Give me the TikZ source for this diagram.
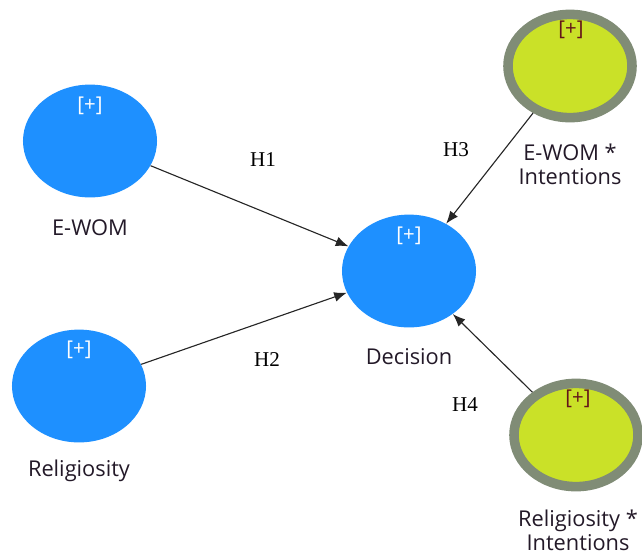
\documentclass[tikz,border=0pt]{standalone}
\usepackage{fontspec}
\setmainfont{Open Sans}
\newfontfamily\hfont{Liberation Serif}
\usetikzlibrary{positioning, shapes.geometric}
\usetikzlibrary{arrows, arrows.meta}
\tikzset{>={Latex[length=9pt, width=7pt]}}
\definecolor{lvblue}{RGB}{30,144,255}
\definecolor{lvgreen}{RGB}{202,225,40}
\definecolor{lvring}{RGB}{128,140,118}
\definecolor{plusred}{RGB}{100,20,25}
\definecolor{labelink}{RGB}{35,25,40}
\tikzset{
  latent/.style={ellipse, fill=lvblue, minimum width=3.35cm, minimum height=2.82cm, inner sep=0pt},
  moderator/.style={ellipse, fill=lvgreen, draw=lvring, line width=6.8pt, minimum width=3.1cm, minimum height=2.58cm, inner sep=0pt},
  plus/.style={font=\fontsize{14.5}{16}\selectfont},
  varname/.style={font=\fontsize{15.5}{17}\selectfont, text=labelink, align=center},
  hyp/.style={font=\hfont\fontsize{15}{17}\selectfont, text=black}
}

\begin{document}
\begin{tikzpicture}[x=0.025cm, y=-0.025cm]
  \useasboundingbox (0,0) rectangle (642,555);
  % Constructs
  \node[latent] (ewom) at (90,141) {};
  \node[latent] (relig) at (79,386) {};
  \node[latent] (dec) at (409,271) {};
  \node[moderator] (ewomint) at (570,66) {};
  \node[moderator] (religint) at (576,435) {};

  % [+] markers
  \node[plus, text=white] (pewom) at (90,106) {[+]};
  \node[plus, text=white] (prelig) at (79,350) {[+]};
  \node[plus, text=white] (pdec) at (409,236) {[+]};
  \node[plus, text=plusred] (pewomint) at (571,30) {[+]};
  \node[plus, text=plusred] (preligint) at (578,399) {[+]};

  % Names
  \node[varname] (lewom) at (90,228) {E-WOM};
  \node[varname] (lrelig) at (79,471) {Religiosity};
  \node[varname] (ldec) at (409,357) {Decision};
  \node[varname] (lewomint) at (570,164) {E-WOM *\\Intentions};
  \node[varname] (lreligint) at (578,530) {Religiosity *\\Intentions};

  % Paths
  \draw[->, black!85, line width=0.8pt] (ewom) -- (dec);
  \draw[->, black!85, line width=0.8pt] (relig) -- (dec);
  \draw[->, black!85, line width=0.8pt] (ewomint) -- (dec);
  \draw[->, black!85, line width=0.8pt] (religint) -- (dec);

  % Hypotheses
  \node[hyp] (h1) at (263,160) {H1};
  \node[hyp] (h2) at (267,360) {H2};
  \node[hyp] (h3) at (456,150) {H3};
  \node[hyp] (h4) at (465,405) {H4};
\end{tikzpicture}
\end{document}
